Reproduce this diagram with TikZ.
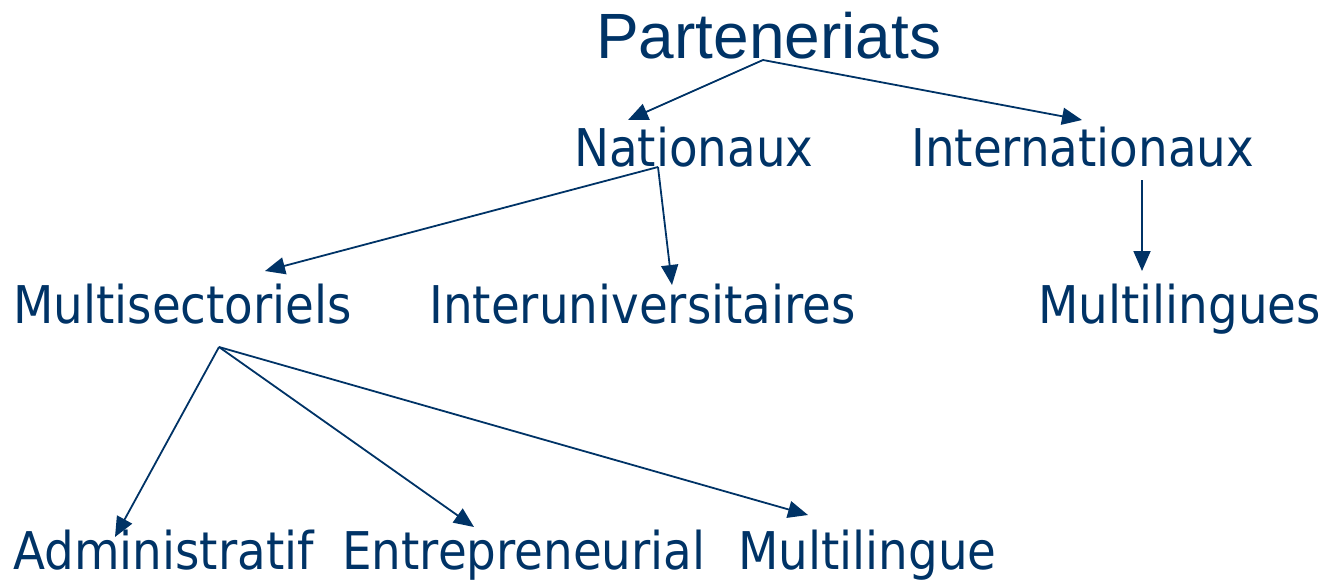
\documentclass[tikz,border=0pt]{standalone}
\usepackage{fontspec}
\usetikzlibrary{arrows.meta}
\newfontfamily\titlefont{Liberation Sans}
\newfontfamily\labfont[FakeStretch=0.9]{DejaVu Sans}
\definecolor{navy}{RGB}{0,51,102}
\begin{document}
\begin{tikzpicture}[x=1pt,y=-1pt,
  lab/.style={anchor=base west,inner sep=0pt,text=navy,font=\labfont\fontsize{52}{60}\selectfont},
  ttl/.style={anchor=base west,inner sep=0pt,text=navy,font=\titlefont\fontsize{64}{72}\selectfont},
  conn/.style={draw=navy,line width=1.8pt,-{Triangle[length=20pt,width=17pt]}}]
\useasboundingbox (0,0) rectangle (1324,579);
\node[ttl] (P) at (596,58) {Parteneriats};
\node[lab] (N) at (574,166) {Nationaux};
\node[lab] (I) at (911,166) {Internationaux};
\node[lab] (MS) at (13,323) {Multisectoriels};
\node[lab] (IU) at (429,323) {Interuniversitaires};
\node[lab] (ML) at (1038,323) {Multilingues};
\node[lab] (A) at (13,569) {Administratif};
\node[lab] (E) at (342,569) {Entrepreneurial};
\node[lab] (M) at (738,569) {Multilingue};
\coordinate (pP) at (763,60);
\coordinate (pN) at (658,167);
\coordinate (pI) at (1142,180);
\coordinate (pMS) at (219,347);
\coordinate (tN) at (628,120);
\coordinate (tI) at (1082,120);
\coordinate (tMS) at (265,271);
\coordinate (tIU) at (672,285);
\coordinate (tML) at (1142,271);
\coordinate (tA) at (115,537);
\coordinate (tE) at (474,527);
\coordinate (tM) at (808,515);
\draw[conn] (pP) -- (tN);
\draw[conn] (pP) -- (tI);
\draw[conn] (pN) -- (tMS);
\draw[conn] (pN) -- (tIU);
\draw[conn] (pI) -- (tML);
\draw[conn] (pMS) -- (tA);
\draw[conn] (pMS) -- (tE);
\draw[conn] (pMS) -- (tM);
\end{tikzpicture}
\end{document}
